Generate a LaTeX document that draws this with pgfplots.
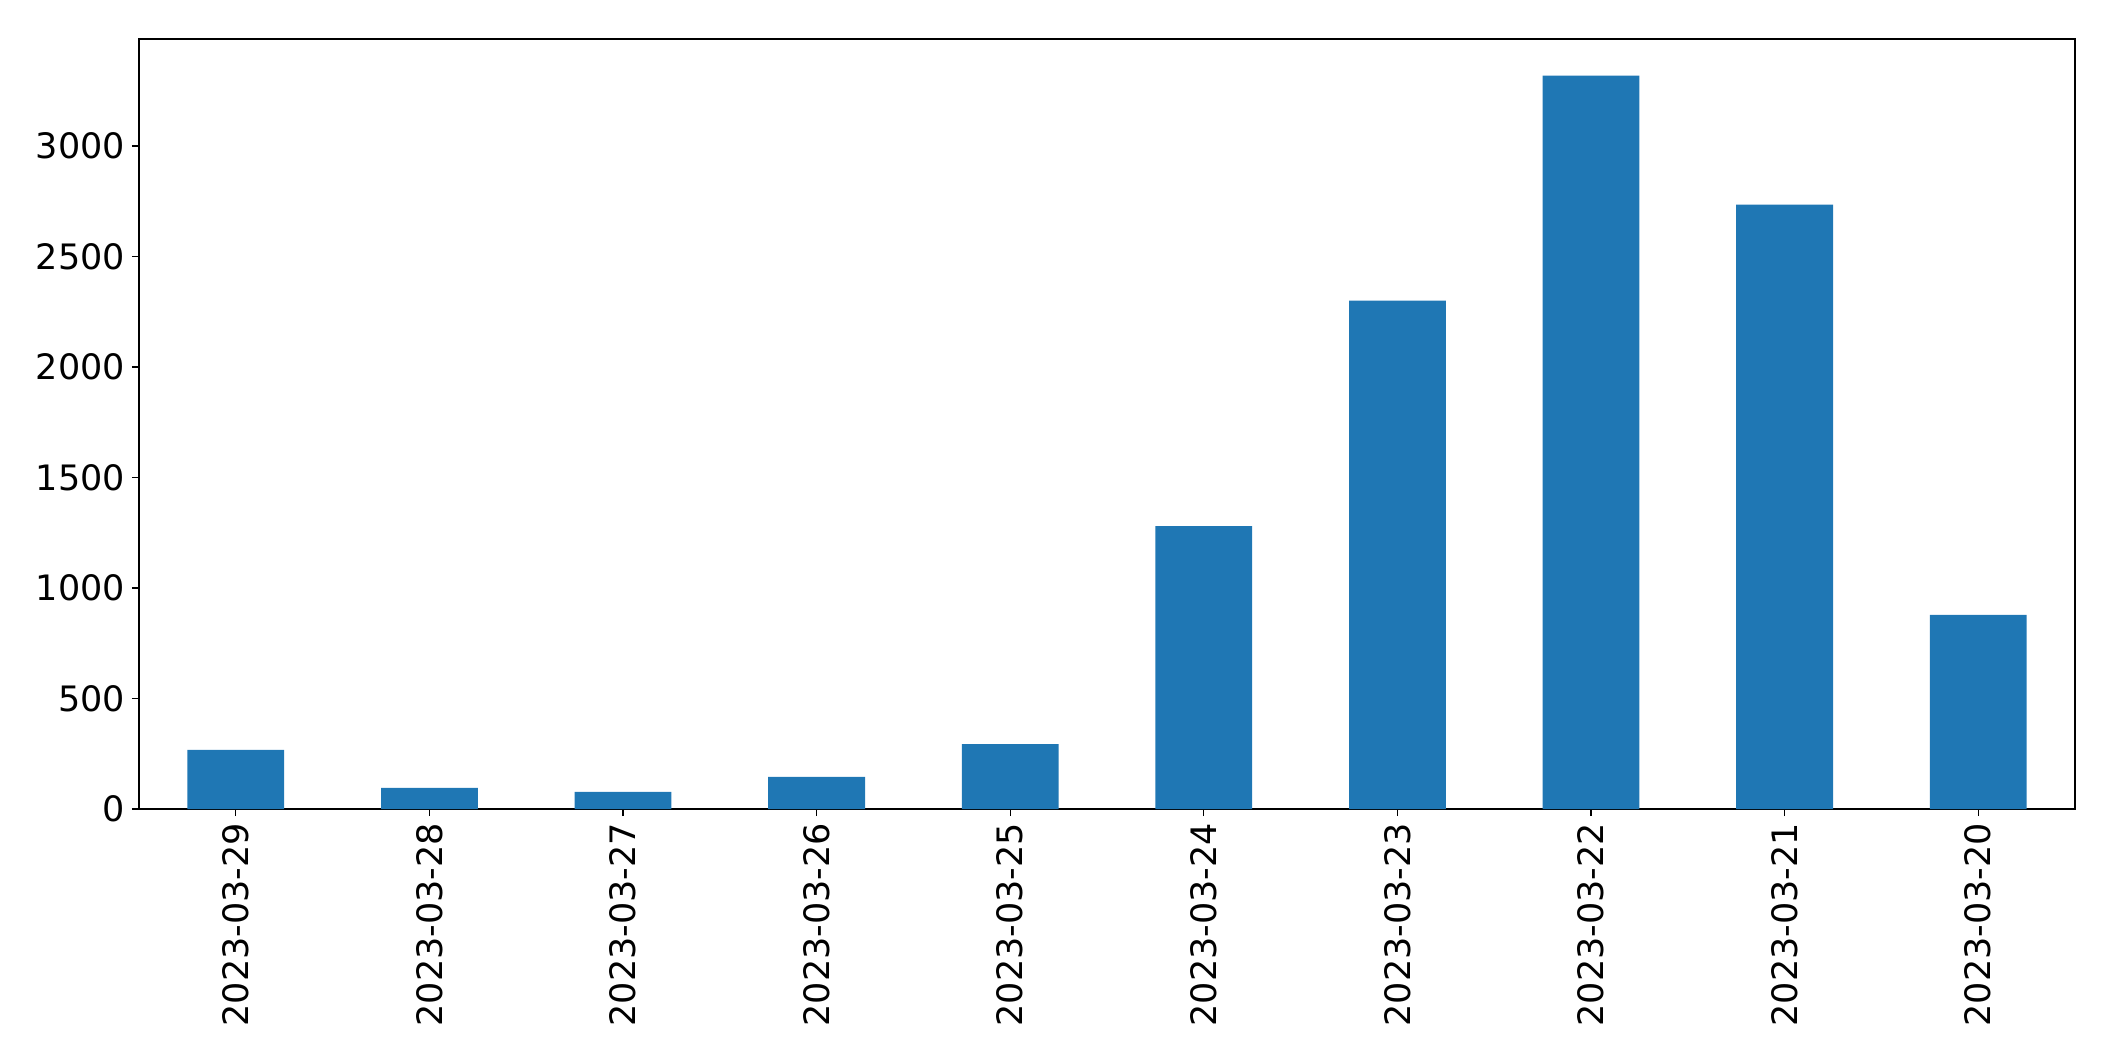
\documentclass[border=0pt]{standalone}
\usepackage{fontspec}
\setmainfont{DejaVu Sans}
\usepackage{pgfplots}
\pgfplotsset{compat=1.18}
\definecolor{barblue}{HTML}{1F77B4}
\begin{document}
\begin{tikzpicture}
\begin{axis}[name=ax,
  width=968pt, height=385pt, scale only axis,
  xmin=-0.5, xmax=9.5, ymin=0, ymax=3484,
  ybar, bar width=0.5,
  xtick={0,...,9},
  xticklabels={2023-03-29,2023-03-28,2023-03-27,2023-03-26,2023-03-25,2023-03-24,2023-03-23,2023-03-22,2023-03-21,2023-03-20},
  x tick label style={rotate=90, anchor=east},
  ytick={0,500,...,3000},
  tick label style={font=\fontsize{17.5}{21}\selectfont},
  tick align=outside, tick pos=left, major tick length=3.5pt,
  /pgf/number format/assume math mode=true,
  /pgf/number format/1000 sep={},
  axis line style={line width=0.6pt},
  tick style={black, line width=0.6pt},
]
\addplot[fill=barblue, draw=none] coordinates {
(0,268) (1,96) (2,78) (3,145) (4,293) (5,1280) (6,2300) (7,3318) (8,2735) (9,878)
};
\end{axis}
\path ([xshift=-69.5pt,yshift=-126pt]ax.south west) rectangle ([xshift=20pt,yshift=19.5pt]ax.north east);
\end{tikzpicture}
\end{document}
